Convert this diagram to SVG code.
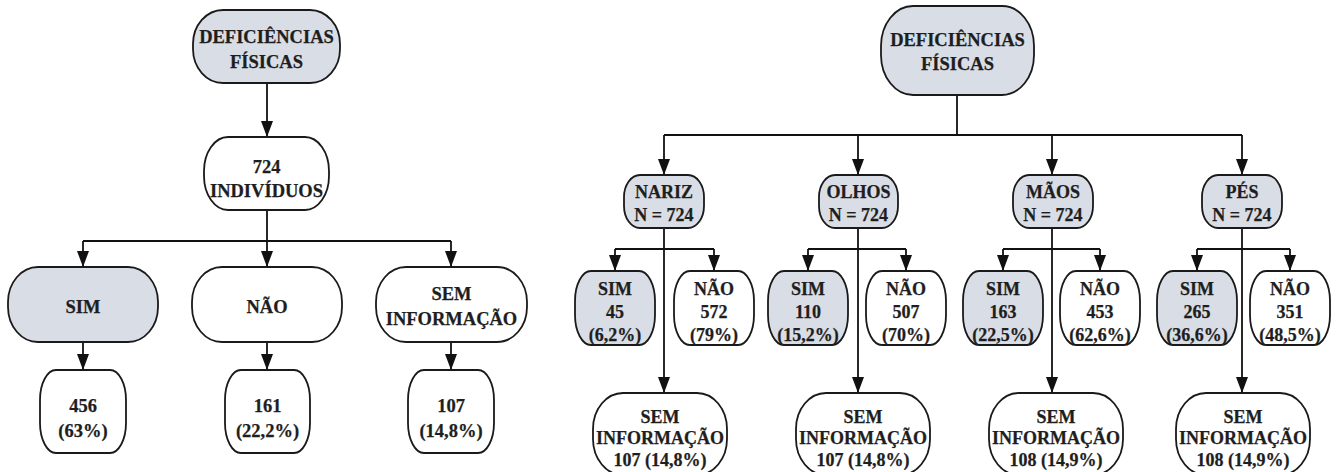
<svg xmlns="http://www.w3.org/2000/svg" width="1341" height="472" viewBox="0 0 1341 472">
<style>
  .box { stroke: #1a1a1a; stroke-width: 1.8; }
  .g { fill: #d9dde5; }
  .w { fill: #ffffff; }
  .t { font-family: "Liberation Serif", "Times New Roman", serif; font-weight: bold; font-size: 18.5px; fill: #1e1e1e; stroke: #1e1e1e; stroke-width: 0.25; text-anchor: middle; }
  .m { font-size: 18px; }
  .s { font-size: 18px; }
  .c { stroke: #111; stroke-width: 1.8; fill: none; }
  .a { stroke: #111; stroke-width: 1.8; fill: none; marker-end: url(#arr); }
</style>
<defs>
  <marker id="arr" markerUnits="userSpaceOnUse" markerWidth="16" markerHeight="12" viewBox="0 0 16 12" refX="16" refY="6" orient="auto">
    <path d="M0,0 L16,6 L0,12 Z" fill="#111"/>
  </marker>
</defs>
<rect width="1341" height="472" fill="#ffffff"/>

<g id="connectors">
  <!-- left -->
  <line class="a" x1="267" y1="83" x2="267" y2="137"/>
  <polyline class="c" points="267,210 267,241"/>
  <line class="c" x1="83" y1="241" x2="451" y2="241"/>
  <line class="a" x1="83" y1="241" x2="83" y2="267"/>
  <line class="a" x1="267" y1="241" x2="267" y2="267"/>
  <line class="a" x1="451" y1="241" x2="451" y2="267"/>
  <line class="a" x1="83" y1="342" x2="83" y2="370"/>
  <line class="a" x1="267" y1="342" x2="267" y2="370"/>
  <line class="a" x1="451" y1="342" x2="451" y2="370"/>
  <!-- right -->
  <line class="c" x1="957" y1="95" x2="957" y2="135"/>
  <line class="c" x1="664" y1="135" x2="1242" y2="135"/>
  <line class="a" x1="664" y1="135" x2="664" y2="175"/>
  <line class="a" x1="858" y1="135" x2="858" y2="175"/>
  <line class="a" x1="1052" y1="135" x2="1052" y2="175"/>
  <line class="a" x1="1242" y1="135" x2="1242" y2="175"/>
  <line class="a" x1="664" y1="228" x2="664" y2="393"/>
  <line class="a" x1="858" y1="228" x2="858" y2="393"/>
  <line class="a" x1="1052" y1="228" x2="1052" y2="393"/>
  <line class="a" x1="1242" y1="228" x2="1242" y2="393"/>
  <line class="c" x1="615" y1="249" x2="714" y2="249"/>
  <line class="a" x1="615" y1="249" x2="615" y2="271"/>
  <line class="a" x1="714" y1="249" x2="714" y2="271"/>
  <line class="c" x1="808" y1="249" x2="906" y2="249"/>
  <line class="a" x1="808" y1="249" x2="808" y2="271"/>
  <line class="a" x1="906" y1="249" x2="906" y2="271"/>
  <line class="c" x1="1003" y1="249" x2="1100" y2="249"/>
  <line class="a" x1="1003" y1="249" x2="1003" y2="271"/>
  <line class="a" x1="1100" y1="249" x2="1100" y2="271"/>
  <line class="c" x1="1197" y1="249" x2="1290" y2="249"/>
  <line class="a" x1="1197" y1="249" x2="1197" y2="271"/>
  <line class="a" x1="1290" y1="249" x2="1290" y2="271"/>
</g>

<!-- LEFT TREE -->
<g id="l_top">
  <rect class="box g" x="193" y="10" width="147" height="73" rx="30" ry="34"/>
  <text class="t" x="266.5" y="43">DEFICIÊNCIAS</text>
  <text class="t" x="266.5" y="68">FÍSICAS</text>
</g>
<g id="l_724">
  <rect class="box w" x="204" y="137" width="125" height="73" rx="24" ry="34"/>
  <text class="t" x="266.5" y="173">724</text>
  <text class="t" x="266.5" y="197">INDIVÍDUOS</text>
</g>
<g id="l_sim">
  <rect class="box g" x="8" y="267" width="150" height="75" rx="30" ry="35"/>
  <text class="t" x="83" y="313">SIM</text>
</g>
<g id="l_nao">
  <rect class="box w" x="192" y="267" width="150" height="75" rx="30" ry="35"/>
  <text class="t" x="267" y="313">NÃO</text>
</g>
<g id="l_sem">
  <rect class="box w" x="376" y="267" width="151" height="75" rx="30" ry="35"/>
  <text class="t" x="451.5" y="300">SEM</text>
  <text class="t" x="451.5" y="325">INFORMAÇÃO</text>
</g>
<g id="l_456">
  <rect class="box w" x="40" y="370" width="86" height="83" rx="16" ry="30"/>
  <text class="t" x="83" y="412">456</text>
  <text class="t" x="83" y="437">(63%)</text>
</g>
<g id="l_161">
  <rect class="box w" x="225" y="370" width="85" height="83" rx="16" ry="30"/>
  <text class="t" x="267.5" y="412">161</text>
  <text class="t" x="267.5" y="437">(22,2%)</text>
</g>
<g id="l_107">
  <rect class="box w" x="408" y="370" width="86" height="83" rx="16" ry="30"/>
  <text class="t" x="451" y="412">107</text>
  <text class="t" x="451" y="437">(14,8%)</text>
</g>

<!-- RIGHT TREE -->
<g id="r_top">
  <rect class="box g" x="881" y="6" width="153" height="89" rx="32" ry="40"/>
  <text class="t" x="957.5" y="46">DEFICIÊNCIAS</text>
  <text class="t" x="957.5" y="70">FÍSICAS</text>
</g>

<g id="r_nariz">
  <rect class="box g" x="624" y="175" width="80" height="53" rx="16" ry="22"/>
  <text class="t m" x="664" y="198">NARIZ</text>
  <text class="t m" x="664" y="221">N = 724</text>
</g>
<g id="r_olhos">
  <rect class="box g" x="819" y="175" width="79" height="53" rx="16" ry="22"/>
  <text class="t m" x="858.5" y="198">OLHOS</text>
  <text class="t m" x="858.5" y="221">N = 724</text>
</g>
<g id="r_maos">
  <rect class="box g" x="1013" y="175" width="80" height="53" rx="16" ry="22"/>
  <text class="t m" x="1053" y="198">MÃOS</text>
  <text class="t m" x="1053" y="221">N = 724</text>
</g>
<g id="r_pes">
  <rect class="box g" x="1202" y="175" width="80" height="53" rx="16" ry="22"/>
  <text class="t m" x="1242" y="198">PÉS</text>
  <text class="t m" x="1242" y="221">N = 724</text>
</g>

<g id="r_nariz_sim">
  <rect class="box g" x="575" y="271" width="80" height="74" rx="16" ry="30"/>
  <text class="t m" x="615" y="295">SIM</text>
  <text class="t m" x="615" y="318">45</text>
  <text class="t m" x="615" y="341">(6,2%)</text>
</g>
<g id="r_nariz_nao">
  <rect class="box w" x="674" y="271" width="80" height="74" rx="16" ry="30"/>
  <text class="t m" x="714" y="295">NÃO</text>
  <text class="t m" x="714" y="318">572</text>
  <text class="t m" x="714" y="341">(79%)</text>
</g>
<g id="r_olhos_sim">
  <rect class="box g" x="768" y="271" width="80" height="74" rx="16" ry="30"/>
  <text class="t m" x="808" y="295">SIM</text>
  <text class="t m" x="808" y="318">110</text>
  <text class="t m" x="808" y="341">(15,2%)</text>
</g>
<g id="r_olhos_nao">
  <rect class="box w" x="866" y="271" width="80" height="74" rx="16" ry="30"/>
  <text class="t m" x="906" y="295">NÃO</text>
  <text class="t m" x="906" y="318">507</text>
  <text class="t m" x="906" y="341">(70%)</text>
</g>
<g id="r_maos_sim">
  <rect class="box g" x="963" y="271" width="80" height="74" rx="16" ry="30"/>
  <text class="t m" x="1003" y="295">SIM</text>
  <text class="t m" x="1003" y="318">163</text>
  <text class="t m" x="1003" y="341">(22,5%)</text>
</g>
<g id="r_maos_nao">
  <rect class="box w" x="1060" y="271" width="80" height="74" rx="16" ry="30"/>
  <text class="t m" x="1100" y="295">NÃO</text>
  <text class="t m" x="1100" y="318">453</text>
  <text class="t m" x="1100" y="341">(62,6%)</text>
</g>
<g id="r_pes_sim">
  <rect class="box g" x="1157" y="271" width="80" height="74" rx="16" ry="30"/>
  <text class="t m" x="1197" y="295">SIM</text>
  <text class="t m" x="1197" y="318">265</text>
  <text class="t m" x="1197" y="341">(36,6%)</text>
</g>
<g id="r_pes_nao">
  <rect class="box w" x="1250" y="271" width="80" height="74" rx="16" ry="30"/>
  <text class="t m" x="1290" y="295">NÃO</text>
  <text class="t m" x="1290" y="318">351</text>
  <text class="t m" x="1290" y="341">(48,5%)</text>
</g>

<g id="r_nariz_sem">
  <rect class="box w" x="593" y="393" width="134" height="82" rx="30" ry="36"/>
  <text class="t s" x="660" y="423">SEM</text>
  <text class="t s" x="660" y="444">INFORMAÇÃO</text>
  <text class="t s" x="660" y="466">107 (14,8%)</text>
</g>
<g id="r_olhos_sem">
  <rect class="box w" x="796" y="393" width="134" height="82" rx="30" ry="36"/>
  <text class="t s" x="863" y="423">SEM</text>
  <text class="t s" x="863" y="444">INFORMAÇÃO</text>
  <text class="t s" x="863" y="466">107 (14,8%)</text>
</g>
<g id="r_maos_sem">
  <rect class="box w" x="989" y="393" width="134" height="82" rx="30" ry="36"/>
  <text class="t s" x="1056" y="423">SEM</text>
  <text class="t s" x="1056" y="444">INFORMAÇÃO</text>
  <text class="t s" x="1056" y="466">108 (14,9%)</text>
</g>
<g id="r_pes_sem">
  <rect class="box w" x="1176" y="393" width="134" height="82" rx="30" ry="36"/>
  <text class="t s" x="1243" y="423">SEM</text>
  <text class="t s" x="1243" y="444">INFORMAÇÃO</text>
  <text class="t s" x="1243" y="466">108 (14,9%)</text>
</g>
</svg>
